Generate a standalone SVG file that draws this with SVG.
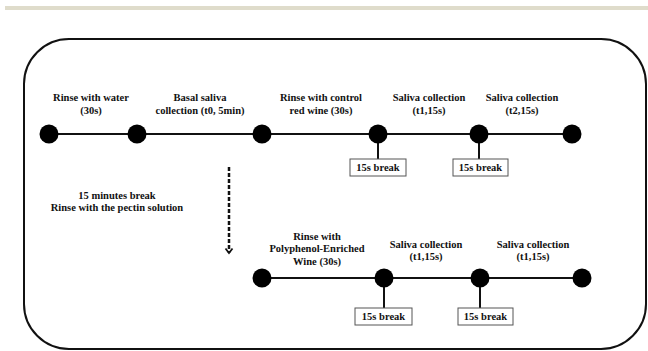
<svg xmlns="http://www.w3.org/2000/svg" width="648" height="351" viewBox="0 0 648 351">
<style>
.t{font-family:"Liberation Serif","Times New Roman",serif;font-weight:bold;font-size:10.5px;fill:#111;text-anchor:middle}
.ln{stroke:#111;stroke-width:2;fill:none}
.nd{fill:#000}
.bx{fill:#fff;stroke:#555;stroke-width:1}
</style>
<defs>
<marker id="ah" markerWidth="10" markerHeight="10" refX="7" refY="5" orient="auto" markerUnits="userSpaceOnUse">
<path d="M2.5,1.5 L7,5 L2.5,8.5" fill="none" stroke="#111" stroke-width="1.8"/>
</marker>
</defs>
<rect x="5" y="6" width="643" height="4" fill="#dfdccb"/>
<rect x="24" y="39" width="622" height="310" rx="45" ry="45" fill="#fff" stroke="#111" stroke-width="2"/>
<g id="connectors">
<line class="ln" x1="49" y1="134" x2="572" y2="134"/>
<line class="ln" x1="378" y1="134" x2="378" y2="159"/>
<line class="ln" x1="479" y1="134" x2="479" y2="159"/>
<line class="ln" x1="262" y1="278" x2="582" y2="278"/>
<line class="ln" x1="384" y1="278" x2="384" y2="308"/>
<line class="ln" x1="480" y1="278" x2="480" y2="308"/>
<line x1="229" y1="167" x2="229" y2="253" stroke="#111" stroke-width="2.5" stroke-dasharray="4,2" marker-end="url(#ah)"/>
</g>
<g id="n1"><circle class="nd" cx="49" cy="134" r="9.5"/><text class="t" x="91" y="101">Rinse with water</text><text class="t" x="91" y="114">(30s)</text></g>
<g id="n2"><circle class="nd" cx="137" cy="134" r="9.5"/><text class="t" x="200" y="101">Basal saliva</text><text class="t" x="200" y="114">collection (t0, 5min)</text></g>
<g id="n3"><circle class="nd" cx="262" cy="134" r="9.5"/><text class="t" x="321" y="101">Rinse with control</text><text class="t" x="321" y="114">red wine (30s)</text></g>
<g id="n4"><circle class="nd" cx="378" cy="134" r="9.5"/><text class="t" x="429" y="101">Saliva collection</text><text class="t" x="429" y="114">(t1,15s)</text></g>
<g id="n5"><circle class="nd" cx="479" cy="134" r="9.5"/><text class="t" x="522" y="101">Saliva collection</text><text class="t" x="522" y="114">(t2,15s)</text></g>
<g id="n6"><circle class="nd" cx="572" cy="134" r="9.5"/></g>
<g id="b1"><rect class="bx" x="350" y="159" width="56" height="17"/><text class="t" x="378" y="171">15s break</text></g>
<g id="b2"><rect class="bx" x="453" y="159" width="55" height="17"/><text class="t" x="480.5" y="171">15s break</text></g>
<g id="pause"><text class="t" x="117" y="199">15 minutes break</text><text class="t" x="117" y="211">Rinse with the pectin solution</text></g>
<g id="m1"><circle class="nd" cx="262" cy="278" r="9.5"/><text class="t" x="317" y="240">Rinse with</text><text class="t" x="317" y="252">Polyphenol-Enriched</text><text class="t" x="317" y="265">Wine (30s)</text></g>
<g id="m2"><circle class="nd" cx="384" cy="278" r="9.5"/><text class="t" x="426" y="248">Saliva collection</text><text class="t" x="426" y="260">(t1,15s)</text></g>
<g id="m3"><circle class="nd" cx="480" cy="278" r="9.5"/><text class="t" x="533" y="248">Saliva collection</text><text class="t" x="533" y="260">(t1,15s)</text></g>
<g id="m4"><circle class="nd" cx="582" cy="278" r="9.5"/></g>
<g id="b3"><rect class="bx" x="355" y="308" width="57" height="17"/><text class="t" x="383.5" y="320">15s break</text></g>
<g id="b4"><rect class="bx" x="458" y="308" width="55" height="17"/><text class="t" x="485.5" y="320">15s break</text></g>
</svg>
